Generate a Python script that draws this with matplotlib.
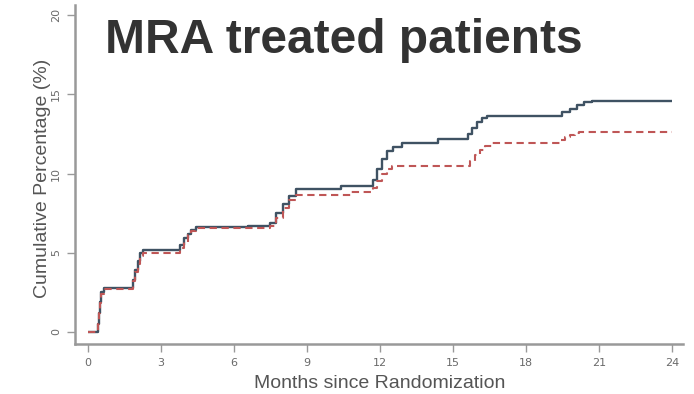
import matplotlib
matplotlib.use("Agg")
import matplotlib.pyplot as plt

# Cumulative event percentage over time (step curves)
solid_months = [0, 0.40, 0.45, 0.50, 0.55, 0.65, 1.85, 1.95, 2.05, 2.15, 2.25,
                3.80, 3.95, 4.10, 4.25, 4.45, 6.60, 7.50, 7.75, 8.00, 8.25, 8.55,
                10.40, 11.70, 11.90, 12.10, 12.30, 12.55, 12.90, 14.40, 15.60,
                15.80, 16.00, 16.20, 16.40, 19.50, 19.80, 20.10, 20.40, 20.70, 24.0]
solid_pct = [0, 0.5, 1.2, 1.9, 2.5, 2.8, 3.3, 3.9, 4.5, 5.0, 5.2,
             5.5, 5.9, 6.2, 6.45, 6.6, 6.7, 6.9, 7.5, 8.1, 8.6, 9.0,
             9.2, 9.6, 10.3, 10.9, 11.4, 11.7, 11.95, 12.2, 12.5,
             12.9, 13.25, 13.5, 13.65, 13.9, 14.1, 14.3, 14.5, 14.6, 14.6]

dashed_months = [0, 0.40, 0.45, 0.50, 0.55, 0.65, 1.85, 1.95, 2.05, 2.15, 2.25,
                 3.80, 3.95, 4.10, 4.25, 4.45, 7.50, 7.75, 8.00, 8.25, 8.55,
                 10.80, 11.70, 11.90, 12.10, 12.30, 12.50, 15.70, 15.90, 16.10,
                 16.30, 16.60, 19.40, 19.60, 19.80, 20.00, 20.20, 24.0]
dashed_pct = [0, 0.5, 1.2, 1.8, 2.4, 2.7, 3.2, 3.8, 4.3, 4.8, 5.0,
              5.3, 5.7, 6.1, 6.4, 6.55, 6.7, 7.2, 7.8, 8.3, 8.65,
              8.85, 9.1, 9.5, 10.0, 10.3, 10.5, 10.8, 11.2, 11.5,
              11.75, 11.9, 12.1, 12.3, 12.45, 12.55, 12.65, 12.65]

x_ticks = [0, 3, 6, 9, 12, 15, 18, 21, 24]
y_ticks = [0, 5, 10, 15, 20]

fig = plt.figure(figsize=(6.94, 3.94), dpi=100)
fig.patch.set_facecolor("white")
ax = fig.add_axes([0.108, 0.127, 0.876, 0.860])

ax.plot(solid_months, solid_pct, drawstyle="steps-post", color="#3f5263",
        lw=1.7, solid_capstyle="butt")
ax.plot(dashed_months, dashed_pct, drawstyle="steps-post", color="#bf5656",
        lw=1.5, linestyle=(0, (3.5, 2.2)))

ax.set_xlim(-0.53, 24.45)
ax.set_ylim(-0.76, 20.63)

for side in ("top", "right"):
    ax.spines[side].set_visible(False)
for side in ("left", "bottom"):
    ax.spines[side].set_color("#999999")
    ax.spines[side].set_linewidth(1.8)

ax.set_xticks(x_ticks)
ax.set_xticklabels([str(v) for v in x_ticks])
ax.set_yticks(y_ticks)
ax.set_yticklabels([str(v) for v in y_ticks], rotation=90, va="center")
ax.tick_params(axis="both", colors="#999999", labelcolor="#6a6a6a",
               length=6, width=1.0, labelsize=8, pad=4)

ax.set_xlabel("Months since Randomization", fontsize=14, color="#555555",
              family="Liberation Sans", va="baseline")
ax.xaxis.set_label_coords(0.502, -0.13)
ax.set_ylabel("Cumulative Percentage (%)", fontsize=14, color="#555555",
              family="Liberation Sans", va="center")
ax.yaxis.set_label_coords(-0.053, 0.49)

fig.text(105 / 694, 1 - 53 / 394, "MRA treated patients", fontsize=34.5,
         fontweight="bold", family="Liberation Sans", color="#333333",
         ha="left", va="baseline")

fig.savefig("out.png", dpi=100)
